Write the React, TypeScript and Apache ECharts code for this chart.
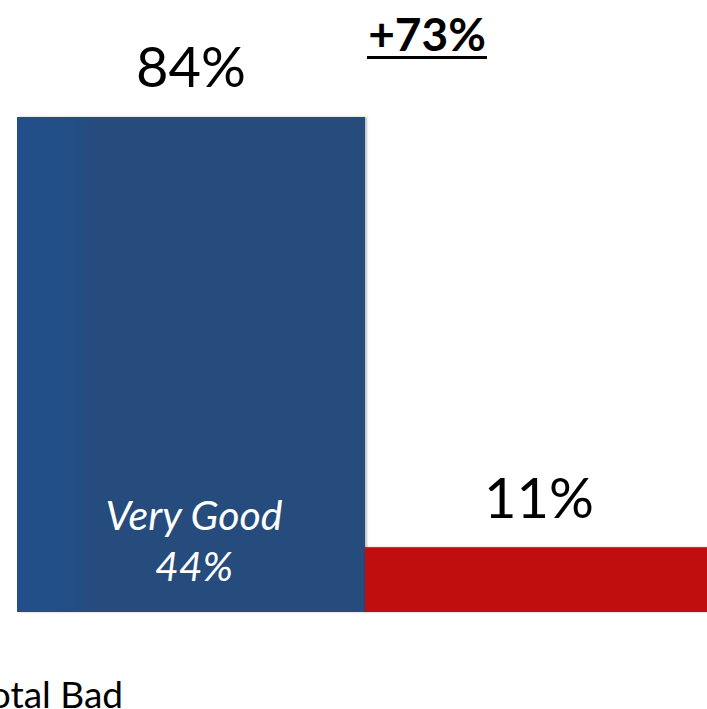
import React, { useEffect, useRef } from "react";
import * as echarts from "echarts";

const categories = ["Total Good", "Total Bad"];
const values = [84, 11];
const barColors = ["#254C7D", "#C00808"];
const valueLabels = ["84%", "11%"];
const insideLabel = "Very Good\n44%";
const diffLabel = "+73%";
const axisLabel = "Total Bad";

export default function App() {
  const ref = useRef<HTMLDivElement>(null);
  useEffect(() => {
    if (!ref.current) return;
    const chart = echarts.init(ref.current, null, { renderer: "svg" });
    const font = "Lato, 'Open Sans', sans-serif";
    chart.setOption({
      animation: false,
      backgroundColor: "#ffffff",
      grid: {
        left: 17,
        width: 696,
        top: 22.7,
        height: 589.3,
        containLabel: false,
        outerBoundsMode: "none",
      },
      xAxis: {
        type: "category",
        data: categories,
        show: false,
      },
      yAxis: { type: "value", min: 0, max: 100, show: false },
      series: [
        {
          type: "bar",
          barWidth: "100%",
          barCategoryGap: 0,
          data: values.map((v, i) => ({
            value: v,
            itemStyle: {
              color:
                i === 0
                  ? {
                      type: "linear",
                      x: 0,
                      y: 0,
                      x2: 1,
                      y2: 0,
                      colorStops: [
                        { offset: 0, color: "#22508A" },
                        { offset: 0.18, color: "#244E84" },
                        { offset: 0.2, color: "#254C7D" },
                        { offset: 1, color: "#254C7D" },
                      ],
                    }
                  : barColors[i],
              shadowColor: "rgba(0,0,0,0.25)",
              shadowBlur: 2,
              shadowOffsetX: i === 0 ? 2 : 0,
            },
            label: {
              show: true,
              position: "top",
              formatter: valueLabels[i],
              distance: 23,
              fontFamily: font,
              fontSize: 56,
              color: "#000000",
            },
          })),
        },
      ],
      graphic: [
        {
          type: "text",
          z: 100,
          x: 194,
          y: 540,
          style: {
            text: insideLabel,
            fontFamily: font,
            fontStyle: "italic",
            fontSize: 41,
            lineHeight: 51,
            fill: "#ffffff",
            align: "center",
            verticalAlign: "middle",
          },
        },
        {
          type: "text",
          z: 100,
          x: 427,
          y: 33,
          style: {
            text: diffLabel,
            fontFamily: font,
            fontWeight: "bold",
            fontSize: 46,
            fill: "#000000",
            align: "center",
            verticalAlign: "middle",
          },
        },
        {
          type: "line",
          z: 100,
          shape: { x1: 367, y1: 57.5, x2: 487, y2: 57.5 },
          style: { stroke: "#000000", lineWidth: 3 },
        },
        {
          type: "text",
          z: 100,
          x: 123,
          y: 693,
          style: {
            text: axisLabel,
            fontFamily: font,
            fontSize: 37,
            fill: "#000000",
            align: "right",
            verticalAlign: "middle",
          },
        },
      ],
    });
    return () => chart.dispose();
  }, []);
  return (
    <div
      ref={ref}
      style={{ position: "fixed", left: 0, top: 0, width: 707, height: 709 }}
    />
  );
}
